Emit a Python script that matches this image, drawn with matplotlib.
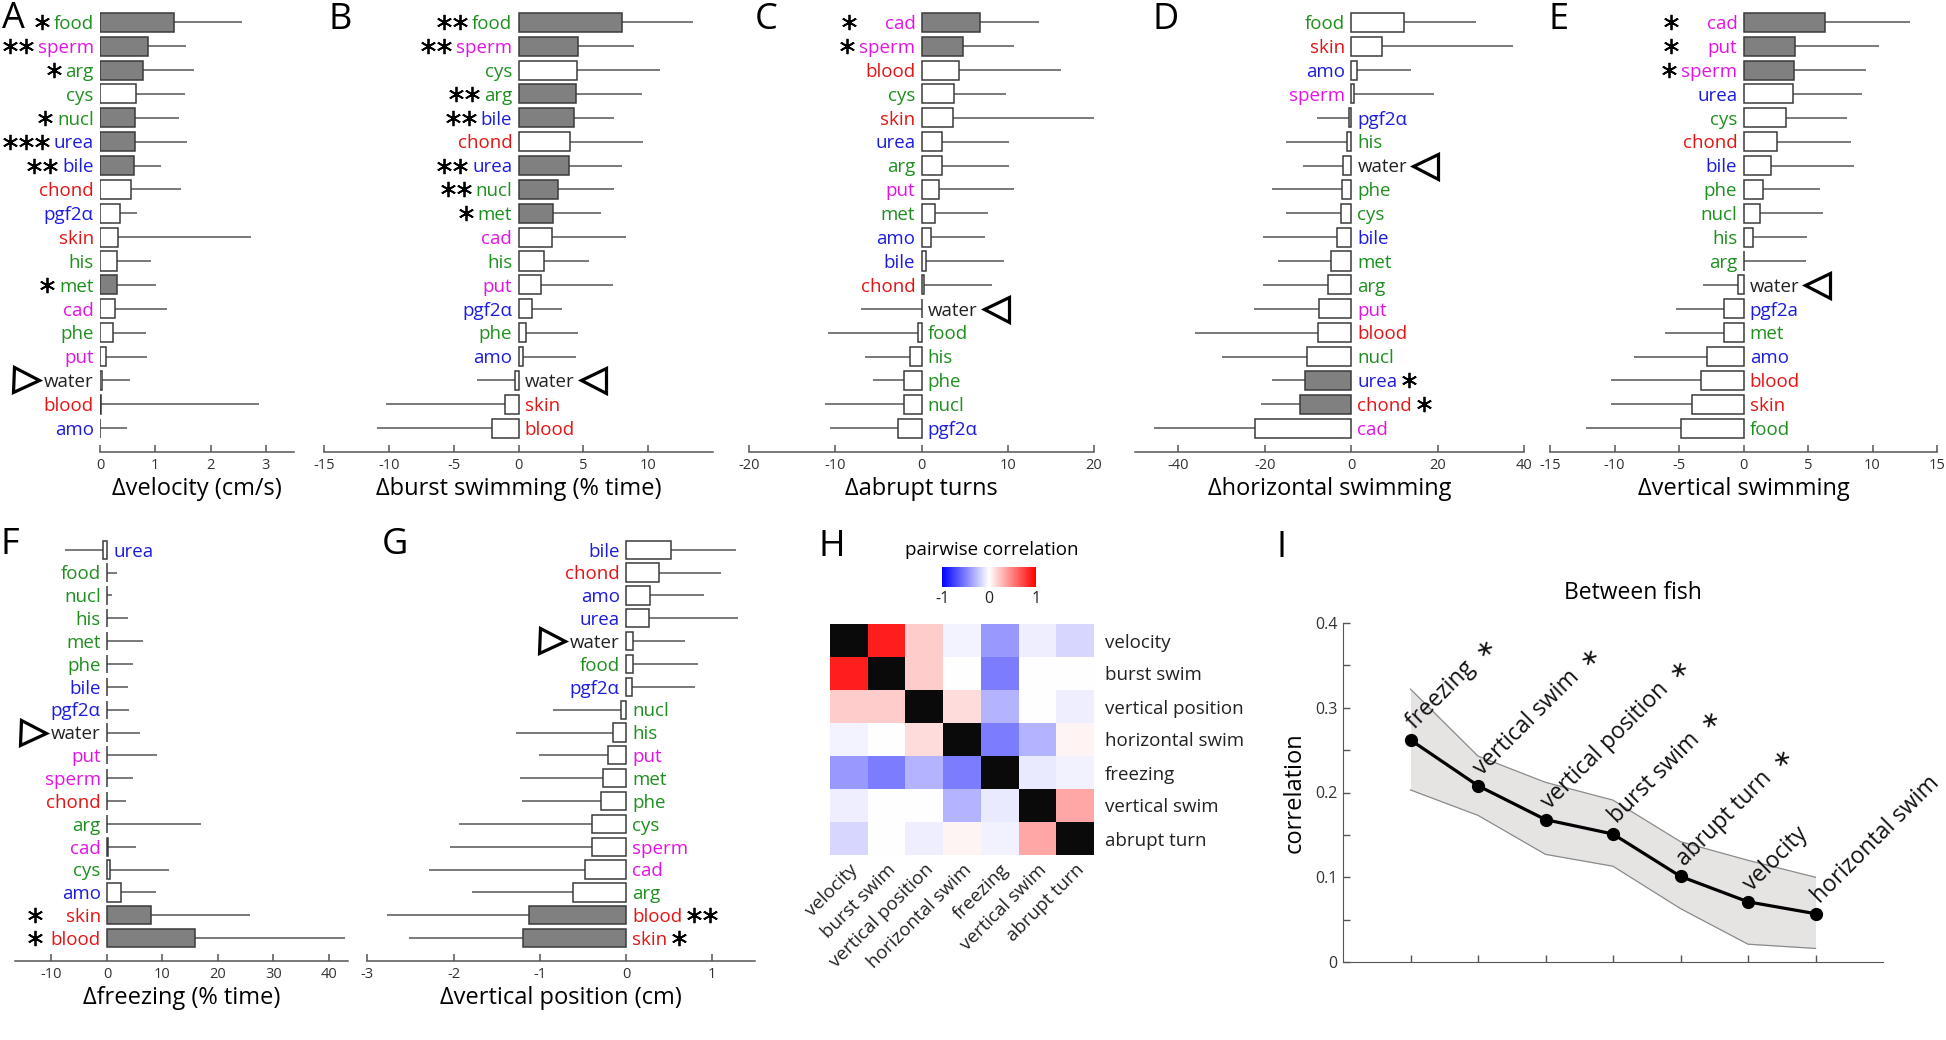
import numpy as np
import matplotlib
matplotlib.use('Agg')
import matplotlib.pyplot as plt

plt.rcParams['font.family'] = ['Open Sans', 'DejaVu Sans']
plt.rcParams['axes.unicode_minus'] = False

W, H = 1946, 1040

# --- cue colours (by chemical class) ---
GREEN, MAG, BLUE, RED, INK = '#1f8f1f', '#e314e3', '#1c1ce0', '#e41414', '#222222'
cue_colour = {'food': GREEN, 'arg': GREEN, 'cys': GREEN, 'nucl': GREEN, 'his': GREEN,
              'met': GREEN, 'phe': GREEN,
              'sperm': MAG, 'cad': MAG, 'put': MAG,
              'urea': BLUE, 'bile': BLUE, 'pgf2α': BLUE, 'pgf2a': BLUE, 'amo': BLUE,
              'chond': RED, 'skin': RED, 'blood': RED, 'water': INK}

# --- A: velocity ---
A_names = ['food', 'sperm', 'arg', 'cys', 'nucl', 'urea', 'bile', 'chond', 'pgf2α',
           'skin', 'his', 'met', 'cad', 'phe', 'put', 'water', 'blood', 'amo']
A_mean = [1.33, 0.87, 0.78, 0.66, 0.63, 0.63, 0.62, 0.56, 0.37, 0.33, 0.31, 0.30,
          0.27, 0.24, 0.11, 0.04, 0.01, 0.005]
A_tip = [2.56, 1.55, 1.70, 1.54, 1.42, 1.58, 1.11, 1.46, 0.67, 2.73, 0.93, 1.02,
         1.22, 0.83, 0.85, 0.55, 2.88, 0.49]
A_sig = [1, 2, 1, 0, 1, 3, 2, 0, 0, 0, 0, 1, 0, 0, 0, 0, 0, 0]

# --- B: burst swimming ---
B_names = ['food', 'sperm', 'cys', 'arg', 'bile', 'chond', 'urea', 'nucl', 'met',
           'cad', 'his', 'put', 'pgf2α', 'phe', 'amo', 'water', 'skin', 'blood']
B_mean = [7.99, 4.56, 4.51, 4.41, 4.25, 4.0, 3.89, 3.04, 2.63, 2.6, 2.0, 1.7, 1.03,
          0.57, 0.33, -0.26, -1.03, -2.06]
B_tip = [13.45, 8.89, 10.9, 9.54, 7.35, 9.6, 8.0, 7.40, 6.37, 8.3, 5.46, 7.29, 3.38,
         4.56, 4.41, -3.22, -10.2, -10.95]
B_sig = [2, 2, 0, 2, 2, 0, 2, 2, 1, 0, 0, 0, 0, 0, 0, 0, 0, 0]

# --- C: abrupt turns ---
C_names = ['cad', 'sperm', 'blood', 'cys', 'skin', 'urea', 'arg', 'put', 'met',
           'amo', 'bile', 'chond', 'water', 'food', 'his', 'phe', 'nucl', 'pgf2α']
C_mean = [6.83, 4.83, 4.32, 3.75, 3.63, 2.39, 2.32, 2.05, 1.54, 1.08, 0.54, 0.27,
          0.02, -0.35, -1.39, -2.0, -2.0, -2.74]
C_tip = [13.67, 10.73, 16.2, 9.8, 20.8, 10.2, 10.15, 10.77, 7.72, 7.34, 9.58, 8.19,
         -6.99, -10.85, -6.53, -5.6, -11.2, -10.6]
C_sig = [1, 1, 0, 0, 0, 0, 0, 0, 0, 0, 0, 0, 0, 0, 0, 0, 0, 0]

# --- D: horizontal swimming ---
D_names = ['food', 'skin', 'amo', 'sperm', 'pgf2α', 'his', 'water', 'phe', 'cys',
           'bile', 'met', 'arg', 'put', 'blood', 'nucl', 'urea', 'chond', 'cad']
D_mean = [12.28, 7.18, 1.39, 0.69, -0.46, -0.85, -1.85, -2.08, -2.24, -3.24, -4.56,
          -5.33, -7.41, -7.57, -10.1, -10.66, -11.8, -22.2]
D_tip = [28.9, 37.5, 13.8, 19.2, -7.8, -15.0, -11.2, -18.4, -15.0, -20.4, -16.8,
         -20.5, -22.5, -36.1, -29.8, -18.4, -20.9, -45.5]
D_sig = [0, 0, 0, 0, 0, 0, 0, 0, 0, 0, 0, 0, 0, 0, 0, 1, 1, 0]

# --- E: vertical swimming ---
E_names = ['cad', 'put', 'sperm', 'urea', 'cys', 'chond', 'bile', 'phe', 'nucl',
           'his', 'arg', 'water', 'pgf2a', 'met', 'amo', 'blood', 'skin', 'food']
E_mean = [6.35, 3.96, 3.91, 3.83, 3.29, 2.59, 2.15, 1.55, 1.27, 0.70, 0.03, -0.39,
          -1.48, -1.48, -2.8, -3.29, -3.99, -4.87]
E_tip = [12.9, 10.5, 9.5, 9.15, 8.06, 8.37, 8.6, 5.9, 6.19, 4.92, 4.82, -3.16,
         -5.23, -6.09, -8.52, -10.3, -10.3, -12.2]
E_sig = [1, 1, 1, 0, 0, 0, 0, 0, 0, 0, 0, 0, 0, 0, 0, 0, 0, 0]

# --- F: freezing ---
F_names = ['urea', 'food', 'nucl', 'his', 'met', 'phe', 'bile', 'pgf2α', 'water',
           'put', 'sperm', 'chond', 'arg', 'cad', 'cys', 'amo', 'skin', 'blood']
F_mean = [-0.7, 0, 0, 0, 0, 0, 0, 0, 0, 0, 0, 0, 0, 0.1, 0.48, 2.46, 8.0, 15.9]
F_tip = [-7.5, 1.8, 0.96, 3.8, 6.5, 4.7, 3.7, 4.0, 5.9, 9.0, 4.7, 3.4, 16.9, 5.3,
         11.2, 8.9, 25.7, 42.9]
F_sig = [0, 0, 0, 0, 0, 0, 0, 0, 0, 0, 0, 0, 0, 0, 0, 0, 1, 1]

# --- G: vertical position ---
G_names = ['bile', 'chond', 'amo', 'urea', 'water', 'food', 'pgf2α', 'nucl', 'his',
           'put', 'met', 'phe', 'cys', 'sperm', 'cad', 'arg', 'blood', 'skin']
G_mean = [0.525, 0.386, 0.278, 0.270, 0.085, 0.085, 0.07, -0.058, -0.154, -0.208,
          -0.266, -0.29, -0.394, -0.40, -0.48, -0.62, -1.12, -1.20]
G_tip = [1.28, 1.10, 0.90, 1.30, 0.687, 0.838, 0.795, -0.85, -1.274, -1.004, -1.224,
         -1.208, -1.94, -2.04, -2.29, -1.79, -2.77, -2.52]
G_sig = [0, 0, 0, 0, 0, 0, 0, 0, 0, 0, 0, 0, 0, 0, 0, 0, 2, 1]

# --- H: pairwise correlation ---
feat = ['velocity', 'burst swim', 'vertical position', 'horizontal swim',
        'freezing', 'vertical swim', 'abrupt turn']
corr = [[np.nan, 0.88, 0.20, -0.04, -0.40, -0.07, -0.16],
        [0.88, np.nan, 0.20, 0.00, -0.51, 0.00, 0.00],
        [0.20, 0.20, np.nan, 0.14, -0.29, 0.00, -0.07],
        [-0.04, 0.00, 0.14, np.nan, -0.51, -0.29, 0.04],
        [-0.40, -0.51, -0.29, -0.51, np.nan, -0.08, -0.05],
        [-0.07, 0.00, 0.00, -0.29, -0.08, np.nan, 0.35],
        [-0.16, 0.00, -0.07, 0.04, -0.05, 0.35, np.nan]]

# --- I: between fish ---
I_names = ['freezing', 'vertical swim', 'vertical position', 'burst swim',
           'abrupt turn', 'velocity', 'horizontal swim']
I_mean = [0.262, 0.208, 0.168, 0.151, 0.101, 0.071, 0.057]
I_hi = [0.322, 0.243, 0.212, 0.191, 0.142, 0.120, 0.100]
I_lo = [0.203, 0.173, 0.127, 0.113, 0.063, 0.021, 0.016]
I_sig = [1, 1, 1, 1, 1, 0, 0]

fig = plt.figure(figsize=(W / 100, H / 100), dpi=100)


def px_axes(x0, y0, x1, y1):
    # pixel box (top-left origin) -> figure axes
    return fig.add_axes([x0 / W, 1 - y1 / H, (x1 - x0) / W, (y1 - y0) / H])


pending = []


def bar_panel(ax, names, means, tips, sig, lim, ticks, xlabel, star_col=None):
    pos = np.arange(len(names))
    faces = ['#808080' if s else 'white' for s in sig]
    for y, m, t in zip(pos, means, tips):
        ax.plot([m, t], [y, y], color='#555555', lw=1.1, solid_capstyle='butt', zorder=2)
    ax.barh(pos, means, height=0.8, color=faces, edgecolor='#3a3a3a', linewidth=1.1, zorder=3)
    ax.set_xlim(*lim)
    ax.set_ylim(len(names), -0.6)
    ax.set_xticks(ticks)
    ax.set_yticks([])
    ax.set_facecolor('none')
    for s in ['top', 'right', 'left']:
        ax.spines[s].set_visible(False)
    ax.spines['bottom'].set_color('#555555')
    ax.spines['bottom'].set_linewidth(1.1)
    ax.tick_params(axis='x', direction='in', length=5, width=1.1, color='#555555',
                   labelcolor='#333333', labelsize=10.5, pad=4)
    ax.set_xlabel(xlabel, fontsize=17, labelpad=3)
    for y, name, t, s in zip(pos, names, tips, sig):
        right = t < 0
        lab = ax.annotate(name, xy=(0, y), xytext=(4.5 if right else -4.5, -4.9),
                          textcoords='offset points', ha='left' if right else 'right',
                          va='baseline', fontsize=13.5, color=cue_colour[name])
        pending.append((ax, lab, y, s, name == 'water', right, star_col))


axA = px_axes(100, 8, 293.5, 452)
bar_panel(axA, A_names, A_mean, A_tip, A_sig, (0, 3.5), [0, 1, 2, 3], 'Δvelocity (cm/s)')
axB = px_axes(324, 8, 713, 452)
bar_panel(axB, B_names, B_mean, B_tip, B_sig, (-15, 15), [-15, -10, -5, 0, 5, 10],
          'Δburst swimming (% time)')
axC = px_axes(749, 8, 1094, 452)
bar_panel(axC, C_names, C_mean, C_tip, C_sig, (-20, 20), [-20, -10, 0, 10, 20],
          'Δabrupt turns', star_col=-72)
axD = px_axes(1135, 8, 1524, 452)
bar_panel(axD, D_names, D_mean, D_tip, D_sig, (-50, 40), [-40, -20, 0, 20, 40],
          'Δhorizontal swimming')
axE = px_axes(1550, 8, 1937, 452)
bar_panel(axE, E_names, E_mean, E_tip, E_sig, (-15, 15), [-15, -10, -5, 0, 5, 10, 15],
          'Δvertical swimming', star_col=-72)
axF = px_axes(15.4, 536, 348.4, 961)
bar_panel(axF, F_names, F_mean, F_tip, F_sig, (-16.5, 43.5), [-10, 0, 10, 20, 30, 40],
          'Δfreezing (% time)', star_col=-72)
axG = px_axes(367.4, 536, 755.3, 961)
bar_panel(axG, G_names, G_mean, G_tip, G_sig, (-3, 1.5), [-3, -2, -1, 0, 1],
          'Δvertical position (cm)')

# --- H heatmap ---
axH = px_axes(830, 624, 1094, 855)
cmap = plt.get_cmap('bwr').copy()
cmap.set_bad('#0a0a0a')
im = axH.imshow(np.ma.masked_invalid(np.array(corr)), cmap=cmap, vmin=-1, vmax=1,
                aspect='auto', interpolation='nearest')
axH.set_xticks(range(len(feat)), feat, rotation=45, ha='right', rotation_mode='anchor',
               fontsize=13.5)
axH.yaxis.tick_right()
axH.set_yticks(range(len(feat)), feat, fontsize=13.5)
axH.tick_params(axis='y', length=0, pad=8, labelcolor='#222222')
axH.tick_params(axis='x', length=0, pad=4, labelcolor='#222222')
for s in axH.spines.values():
    s.set_visible(False)
cax = px_axes(942, 567, 1036, 587)
cb = fig.colorbar(im, cax=cax, orientation='horizontal', ticks=[-1, 0, 1])
cb.outline.set_visible(False)
cax.tick_params(length=0, labelsize=11.5, pad=3, labelcolor='#222222')
fig.text(992 / W, 1 - 550 / H, 'pairwise correlation', ha='center', va='center', fontsize=13.5)

# --- I line plot ---
axI = px_axes(1343, 623, 1883, 962)
xi = np.arange(1, len(I_names) + 1)
axI.fill_between(xi, I_lo, I_hi, color='#e6e3e3', lw=0, zorder=1)
axI.plot(xi, I_hi, color='#8a8a8a', lw=0.9, zorder=2)
axI.plot(xi, I_lo, color='#8a8a8a', lw=0.9, zorder=2)
axI.plot(xi, I_mean, color='k', lw=2.3, marker='o', ms=8.5, zorder=3)
axI.set_xlim(0, 8)
axI.set_ylim(0, 0.4)
axI.set_yticks([0, 0.1, 0.2, 0.3, 0.4], ['0', '0.1', '0.2', '0.3', '0.4'])
axI.set_yticks([0.05, 0.15, 0.25, 0.35], minor=True)
axI.set_xticks(xi, [])
axI.tick_params(which='both', direction='in', length=5, width=1, color='#555555',
                labelcolor='#333333', labelsize=11.5, pad=4)
for s in ['top', 'right']:
    axI.spines[s].set_visible(False)
for s in ['left', 'bottom']:
    axI.spines[s].set_color('#555555')
axI.set_ylabel('correlation', fontsize=17, labelpad=6)
for x, y, name, s in zip(xi, I_mean, I_names, I_sig):
    axI.annotate(name + ('  ∗' if s else ''), xy=(x, y), xytext=(3, 7),
                 textcoords='offset points', rotation=45, rotation_mode='anchor',
                 ha='left', va='baseline', fontsize=16.5, color='#111111')
fig.text(1633 / W, 1 - 593 / H, 'Between fish', ha='center', va='center', fontsize=16.5)

# --- panel letters ---
letters = [('A', 2, 28), ('B', 329, 29), ('C', 755, 29), ('D', 1153, 29), ('E', 1548, 29),
           ('F', 0, 554), ('G', 382, 554), ('H', 818, 556), ('I', 1277, 557)]
for ch, x, y in letters:
    fig.text(x / W, 1 - y / H, ch, fontsize=26, ha='left', va='baseline')

# --- stars and water triangles placed next to the drawn labels ---
fig.canvas.draw()
rend = fig.canvas.get_renderer()
for ax, lab, y, nstar, water, right, col in pending:
    bb = lab.get_window_extent(rend)
    zx, yd = ax.transData.transform((0, y))
    sgn = 1 if right else -1
    edge = bb.x1 if right else bb.x0
    inv = ax.transData.inverted()
    if water:
        tx, ty = inv.transform((edge + sgn * 18, yd))
        ax.plot(tx, ty, marker='<' if right else '>', ms=18, mfc='none', mec='k',
                mew=2.3, clip_on=False, zorder=5)
    if nstar:
        first = edge + sgn * 12
        if col is not None and not right:
            first = min(zx + col, first)
        for k in range(nstar):
            sx, sy = inv.transform((first + sgn * 16 * k, yd))
            ax.plot(sx, sy, marker=(6, 2, 0), ms=11, mew=1.3, color='k',
                    clip_on=False, zorder=5)

fig.savefig('out.png', dpi=100)
